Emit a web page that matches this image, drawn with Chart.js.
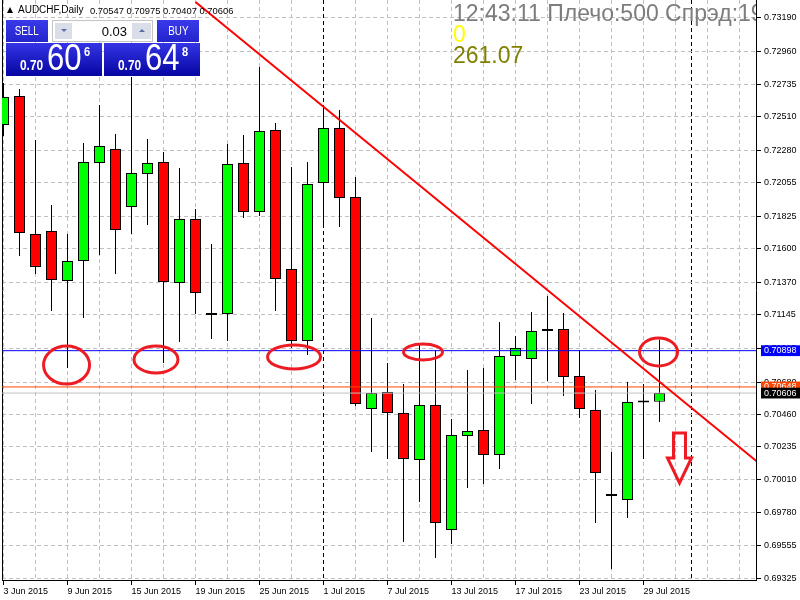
<!DOCTYPE html>
<html>
<head>
	<meta charset="utf-8">
	<title>AUDCHF,Daily</title>
	<style>
		body { margin: 0; background: #fff; }
		#wrap { position: relative; width: 800px; height: 600px; overflow: hidden; font-family: "Liberation Sans", Arial, sans-serif; }
		#wrap canvas { position: absolute; left: 0; top: 0; }
		#hdr { position: absolute; left: 0; top: 0; height: 18px; white-space: pre; color: #000; }
		#hdr .tri { position: absolute; left: 7px; top: 7px; width: 0; height: 0; border-left: 3px solid transparent; border-right: 3px solid transparent; border-bottom: 6px solid #000; }
		#hdr .sym { position: absolute; left: 18px; top: 5px; font-size: 10px; line-height: 10px; }
		#hdr .ohlc { position: absolute; left: 90px; top: 5.5px; font-size: 9.4px; line-height: 10px; }
		.lab { position: absolute; top: 20px; width: 42px; height: 22px; background: linear-gradient(#3a3aea, #2424cc); color: #fff; text-align: center; line-height: 22px; font-size: 12px; }
		.lab span { display: inline-block; transform: scaleX(0.82); }
		.blk { position: absolute; top: 43px; width: 96px; height: 33px; background: linear-gradient(#3434e6, #0606a2); color: #fff; }
		.blk span { position: absolute; white-space: nowrap; transform-origin: left top; }
		.blk .sm { left: 14px; top: 15px; font-size: 14px; line-height: 14px; font-weight: bold; transform: scaleX(0.85); }
		.blk .big { left: 41px; top: -4px; font-size: 37px; line-height: 37px; transform: scaleX(0.84); }
		.blk .sup { left: 78px; top: 2px; font-size: 13px; line-height: 13px; font-weight: bold; transform: scaleX(0.85); }
		.spin { position: absolute; left: 52px; top: 20px; width: 101px; height: 22px; background: #fff; border: 1px solid #c4c4c4; box-sizing: border-box; }
		.spin .sb { position: absolute; top: 2px; height: 16px; background: #d9dee9; }
		.spin .sb i { position: absolute; left: 50%; top: 6px; margin-left: -3px; width: 0; height: 0; border-left: 3px solid transparent; border-right: 3px solid transparent; }
		.spin .dn { left: 2px; width: 17px; }
		.spin .dn i { border-top: 3px solid #5b6cab; }
		.spin .up { left: 79px; width: 19px; }
		.spin .up i { border-bottom: 3px solid #5b6cab; }
		.spin .lot { position: absolute; right: 25px; top: 4px; font-size: 13px; line-height: 13px; color: #000; }
		#info { position: absolute; left: 453px; top: 0; width: 303px; height: 70px; overflow: hidden; font-size: 23px; line-height: 23px; white-space: nowrap; }
		#info div { position: absolute; left: 0; }
	</style>
</head>
<body>
<div id="wrap">
	<canvas id="chart" width="800" height="600"></canvas>
	<div id="hdr"><i class="tri"></i><span class="sym">AUDCHF,Daily</span><span class="ohlc">0.70547 0.70975 0.70407 0.70606</span></div>
	<div class="lab" style="left:6px"><span>SELL</span></div>
	<div class="spin"><div class="sb dn"><i></i></div><span class="lot">0.03</span><div class="sb up"><i></i></div></div>
	<div class="lab" style="left:157px"><span>BUY</span></div>
	<div class="blk" style="left:6px"><span class="sm">0.70</span><span class="big">60</span><span class="sup">6</span></div>
	<div class="blk" style="left:104px"><span class="sm">0.70</span><span class="big">64</span><span class="sup">8</span></div>
	<div id="info">
		<div style="top:2px;color:#7d7d7d">12:43:11 Плечо:500 Спрэд:19</div>
		<div style="top:23px;color:#ffff00">0</div>
		<div style="top:44px;color:#808000">261.07</div>
	</div>
</div>
<script src="https://cdn.jsdelivr.net/npm/chart.js@4.4.1/dist/chart.umd.min.js"></script>
<script>
	// daily bars, 3 Jun 2015 .. 30 Jul 2015 (one entry per trading day)
	const opens = [0.72453, 0.72653, 0.71702, 0.71723, 0.71378, 0.71516, 0.72191, 0.72288, 0.71888, 0.72115,
		0.72198, 0.71364, 0.71805, 0.71144, 0.71151, 0.72191, 0.71853, 0.72418, 0.71461, 0.70965,
		0.72053, 0.72432, 0.71957, 0.70496, 0.70613, 0.70469, 0.70145, 0.70524, 0.69663, 0.70310,
		0.70352, 0.70179, 0.70861, 0.70841, 0.71034, 0.71047, 0.70724, 0.70489, 0.69897, 0.69869,
		0.70541, 0.70547];
	const highs = [0.72742, 0.72701, 0.72350, 0.71902, 0.71702, 0.72329, 0.72591, 0.72391, 0.72784, 0.72356,
		0.72267, 0.72157, 0.71874, 0.71633, 0.72322, 0.72384, 0.72852, 0.72467, 0.72164, 0.72198,
		0.72591, 0.72556, 0.72095, 0.71123, 0.70813, 0.70668, 0.70944, 0.70903, 0.70427, 0.70765,
		0.70779, 0.71096, 0.70999, 0.71165, 0.71275, 0.71158, 0.70903, 0.70627, 0.70200, 0.70682,
		0.70668, 0.70975];
	const lows = [0.72377, 0.71550, 0.71426, 0.71171, 0.70779, 0.71123, 0.71557, 0.71426, 0.71702, 0.71764,
		0.70813, 0.70958, 0.71151, 0.70979, 0.70965, 0.71812, 0.71826, 0.71171, 0.70917, 0.70868,
		0.71743, 0.71750, 0.70517, 0.70200, 0.70152, 0.69580, 0.69855, 0.69470, 0.69566, 0.69952,
		0.69980, 0.70083, 0.70696, 0.70531, 0.70689, 0.70586, 0.70434, 0.69711, 0.69394, 0.69745,
		0.70152, 0.70407];
	const closes = [0.72646, 0.71709, 0.71475, 0.71385, 0.71516, 0.72198, 0.72308, 0.71729, 0.72122, 0.72191,
		0.71371, 0.71805, 0.71295, 0.71158, 0.72184, 0.71853, 0.72412, 0.71392, 0.70965, 0.72046,
		0.72432, 0.71950, 0.70531, 0.70606, 0.70469, 0.70152, 0.70524, 0.69711, 0.70317, 0.70345,
		0.70179, 0.70861, 0.70917, 0.71034, 0.71047, 0.70717, 0.70496, 0.70055, 0.69911, 0.70544,
		0.70541, 0.70606];

	// time axis: a date label every 4 bars, month separators at 1 Jul and 3 Aug
	const dayLabels = ['3 Jun 2015', '9 Jun 2015', '15 Jun 2015', '19 Jun 2015', '25 Jun 2015', '1 Jul 2015',
		'7 Jul 2015', '13 Jul 2015', '17 Jul 2015', '23 Jul 2015', '29 Jul 2015'];
	const labelBars = [0, 4, 8, 12, 16, 20, 24, 28, 32, 36, 40];
	const gridBars = [0, 2, 4, 6, 8, 10, 12, 14, 16, 18, 20, 22, 24, 26, 28, 30, 32, 34, 36, 38, 40, 42, 44, 46];
	const separators = [20, 43];

	// price axis
	const priceTicks = [0.73190, 0.72960, 0.72735, 0.72510, 0.72280, 0.72055, 0.71825, 0.71600, 0.71370,
		0.71145, 0.70915, 0.70680, 0.70460, 0.70235, 0.70010, 0.69780, 0.69555, 0.69325];
	const levels = [0.70898, 0.70648, 0.70606];
	const levelColors = ['#0000FF', '#FF4500', '#C0C0C0'];
	const levelBoxes = ['#0000FF', '#FF4500', '#000000'];

	// trend line (bar, price)
	const trendBars = [12, 47.1];
	const trendPrices = [0.73300, 0.70133];

	// hand drawn marks
	const rings = [
		{bar: 3.94, price: 0.70799, rx: 23, ry: 19},
		{bar: 9.53, price: 0.70837, rx: 22, ry: 13.5},
		{bar: 18.16, price: 0.70855, rx: 26.5, ry: 12},
		{bar: 26.22, price: 0.70889, rx: 19.5, ry: 8},
		{bar: 40.94, price: 0.70889, rx: 19, ry: 14}
	];
	const arrow = {bar: 42.25, price: 0.70331};

	const xMin = -0.09375, xMax = 47.03125;
	const yMin = 0.693181, yMax = 0.733140;

	const isLevel = (v) => levels.indexOf(v) >= 0;
	const bars = opens.map((o, i) => i);
	const bodyColors = bars.map((i) => closes[i] > opens[i] ? '#00FF00' : (closes[i] < opens[i] ? '#FF0000' : '#000000'));

	let datasets = [
		{
			type: 'line',
			data: trendBars.map((b, i) => ({x: b, y: trendPrices[i]})),
			borderColor: '#FF0000',
			borderWidth: 2,
			pointRadius: 0,
			order: 0
		}
	];
	levels.forEach(function(v, k) {
		datasets.push({
			type: 'line',
			data: [{x: xMin - 1, y: v}, {x: xMax + 1, y: v}],
			borderColor: levelColors[k],
			borderWidth: 1,
			pointRadius: 0,
			order: 1
		});
	});
	datasets.push({
		type: 'bar',
		data: bars.map((i) => ({x: i, y: [opens[i], closes[i]]})),
		backgroundColor: bodyColors,
		borderColor: '#000000',
		borderWidth: 1,
		borderSkipped: false,
		barThickness: 11,
		minBarLength: 2,
		inflateAmount: 0,
		grouped: false,
		order: 2
	});
	datasets.push({
		type: 'bar',
		data: bars.map((i) => ({x: i, y: [lows[i], highs[i]]})),
		backgroundColor: '#000000',
		borderWidth: 0,
		barThickness: 1,
		inflateAmount: 0,
		grouped: false,
		order: 3
	});

	const marksPlugin = {
		id: 'marks',
		afterDatasetsDraw(chart) {
			const ctx = chart.ctx;
			const x = chart.scales.x, y = chart.scales.y;
			ctx.save();
			ctx.strokeStyle = '#ED1C24';
			ctx.lineWidth = 3;
			rings.forEach(function(r) {
				ctx.beginPath();
				ctx.ellipse(x.getPixelForValue(r.bar), y.getPixelForValue(r.price), r.rx, r.ry, 0, 0, Math.PI * 2);
				ctx.stroke();
			});
			const ax = x.getPixelForValue(arrow.bar), ay = y.getPixelForValue(arrow.price);
			const shape = [[-6, 0], [6, 0], [6, 25], [12, 25], [0, 50], [-12, 25], [-6, 25]];
			ctx.beginPath();
			shape.forEach(function(p, i) {
				if (i == 0) ctx.moveTo(ax + p[0], ay + p[1]);
				else ctx.lineTo(ax + p[0], ay + p[1]);
			});
			ctx.closePath();
			ctx.stroke();
			ctx.restore();
		}
	};

	Chart.defaults.font.family = "'Liberation Sans', Arial, sans-serif";
	Chart.defaults.font.size = 9;
	Chart.defaults.color = '#000';

	let config = {
		type: 'bar',
		data: { datasets: datasets },
		options: {
			responsive: false,
			animation: false,
			events: [],
			layout: { padding: 0 },
			plugins: { legend: { display: false }, tooltip: { enabled: false } },
			scales: {
				x: {
					type: 'linear',
					min: xMin,
					max: xMax,
					bounds: 'data',
					offset: false,
					grid: {
						offset: false,
						color: (c) => c.tick && separators.indexOf(c.tick.value) >= 0 ? '#000000' : '#C0C0C0',
						tickColor: (c) => c.tick && labelBars.indexOf(c.tick.value) >= 0 ? '#000000' : 'rgba(0,0,0,0)',
						tickLength: 5
					},
					border: { color: '#000000', dash: [4, 3] },
					ticks: {
						autoSkip: false,
						maxRotation: 0,
						minRotation: 0,
						align: 'start',
						padding: 1,
						color: '#000',
						callback: function(v) {
							let k = labelBars.indexOf(v);
							return k < 0 ? '' : dayLabels[k];
						}
					},
					afterBuildTicks: function(s) {
						s.ticks = gridBars.concat([43]).map((v) => ({value: v}));
					},
					afterFit: function(s) {
						s.height = 20;
						s.paddingLeft = 0;
						s.paddingRight = 0;
					}
				},
				y: {
					type: 'linear',
					position: 'right',
					min: yMin,
					max: yMax,
					bounds: 'data',
					stacked: false,
					beginAtZero: false,
					grid: {
						color: (c) => c.tick && isLevel(c.tick.value) ? 'rgba(0,0,0,0)' : '#C0C0C0',
						tickColor: (c) => c.tick && isLevel(c.tick.value) ? 'rgba(0,0,0,0)' : '#000000',
						tickLength: 5
					},
					border: { color: '#000000', dash: [4, 3] },
					ticks: {
						autoSkip: false,
						padding: 3,
						color: (c) => c.tick && isLevel(c.tick.value) ? '#FFFFFF' : '#000000',
						showLabelBackdrop: (c) => !!(c.tick && isLevel(c.tick.value)),
						backdropColor: (c) => c.tick && isLevel(c.tick.value) ? levelBoxes[levels.indexOf(c.tick.value)] : 'rgba(0,0,0,0)',
						backdropPadding: { left: 3, right: 10, top: 0, bottom: 0 },
						callback: (v) => v.toFixed(5)
					},
					afterBuildTicks: function(s) {
						s.ticks = priceTicks.concat(levels).map((v) => ({value: v}));
					},
					afterFit: function(s) {
						s.width = 44;
						s.paddingTop = 0;
						s.paddingBottom = 0;
					}
				},
				yl: {
					type: 'linear',
					position: 'left',
					display: true,
					ticks: { display: false },
					grid: { display: false, drawTicks: false },
					border: { display: true, color: '#000000' },
					afterFit: function(s) {
						s.width = 2;
						s.paddingTop = 0;
						s.paddingBottom = 0;
					}
				}
			}
		},
		plugins: [marksPlugin]
	};

	let myChart = new Chart(document.getElementById('chart').getContext('2d'), config);
</script>
</body>
</html>
